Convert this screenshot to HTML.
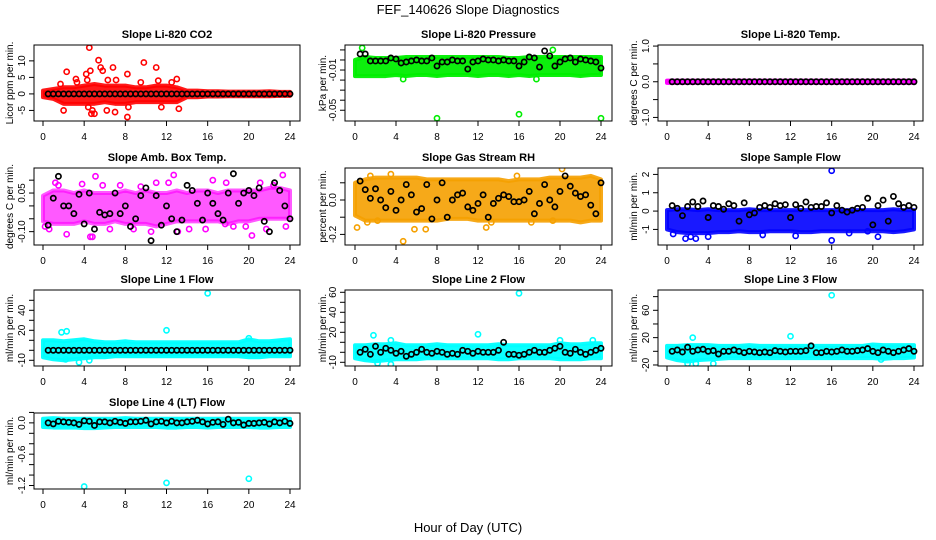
<!DOCTYPE html>
<html><head><meta charset="utf-8"><style>
html,body{margin:0;padding:0;background:#fff}
svg{display:block;font-family:"Liberation Sans",Arial,sans-serif}
</style></head><body>
<svg id="chart" width="936" height="540" viewBox="0 0 936 540">
<text x="468" y="14" text-anchor="middle" font-size="13">FEF_140626  Slope Diagnostics</text>
<text x="468" y="532" text-anchor="middle" font-size="13">Hour of Day (UTC)</text>
</svg>
<script>
// ---- data ----
const bandHours = [0,1,2,3,4,5,6,7,8,9,10,11,12,13,14,15,16,17,18,19,20,21,22,23,24];
const xTicks = [0,4,8,12,16,20,24];

const co2Lo = [-1,-1.5,-3,-3,-3,-3,-2.5,-3,-3,-2.5,-2.5,-2.5,-2.5,-2.5,-1,-1,-0.8,-0.8,-0.7,-0.7,-0.7,-0.7,-0.7,-0.6,-0.6];
const co2Hi = [1,1.5,2,2,2.5,3,2.5,2.5,2.5,2,2,2.5,2.5,2,1,1,0.8,0.8,0.7,0.7,0.7,0.7,0.8,0.6,0.6];
const co2OutX = [4.5,5.4,9.8,11,2.3,5.6,6.8,4.6,3.2,4.3,6.3,7.1,8.2,9.5,11.2,13,1.7,2,4.8,6.2,7,8.2,4.7,5,11.5,13.2,12.5,4.2,4.4,8.3,5.8,3.3];
const co2OutY = [14,10.2,9.5,8,6.7,8,8,7,4.5,4.2,4.2,4.2,6,3.5,4,4.5,3,-5,-5,-5,-5.5,-7,-6,-6,-4,-4.5,3.5,6,-4,-4,7,3.5];
const co2Blk = [0,0,0,0,0,0,0,0,0,0,0,0,0,0,0,0,0,0,0,0,0,0,0,0,0,0,0,0,0,0,0,0,0,0,0,0,0,0,0,0,0,0,0,0,0,0,0,0];

const presLo = [-0.016,-0.016,-0.016,-0.016,-0.015,-0.016,-0.015,-0.015,-0.016,-0.015,-0.015,-0.015,-0.016,-0.015,-0.015,-0.016,-0.015,-0.016,-0.015,-0.015,-0.015,-0.015,-0.016,-0.015,-0.015];
const presHi = [0,0.003,0.002,0.002,0.002,0.003,0.003,0.003,0.003,0.003,0.003,0.003,0.003,0.003,0.003,0.002,0.002,0.003,0.003,0.003,0.003,0.003,0.003,0.003,0.003];
const presOutX = [8,16,24,4.7,17.7,0.7,19.3];
const presOutY = [-0.058,-0.054,-0.058,-0.019,-0.019,0.012,0.01];
const presBlk = [0.006,0.006,-0.001,-0.001,-0.001,-0.001,0.002,0.001,-0.003,-0.002,-0.001,0,-0.001,-0.001,0.002,-0.006,-0.002,-0.002,0,-0.001,-0.001,-0.009,-0.002,-0.001,0.001,0,0,-0.001,0,-0.001,-0.001,-0.006,-0.002,0.003,0.002,-0.007,0.009,0.004,-0.006,-0.002,0.001,0.002,-0.002,0.001,0,-0.001,-0.002,-0.008];

const tempLo = [-0.03,-0.03,-0.03,-0.03,-0.03,-0.03,-0.03,-0.03,-0.03,-0.03,-0.03,-0.03,-0.03,-0.03,-0.03,-0.03,-0.03,-0.03,-0.03,-0.03,-0.03,-0.03,-0.03,-0.03,-0.03];
const tempHi = [0.03,0.03,0.03,0.03,0.03,0.03,0.03,0.03,0.03,0.03,0.03,0.03,0.03,0.03,0.03,0.03,0.03,0.03,0.03,0.03,0.03,0.03,0.03,0.03,0.03];
const tempOutX = [];
const tempOutY = [];
const tempBlk = [0,0,0,0,0,0,0,0,0,0,0,0,0,0,0,0,0,0,0,0,0,0,0,0,0,0,0,0,0,0,0,0,0,0,0,0,0,0,0,0,0,0,0,0,0,0,0,0];

const ambLo = [-0.06,-0.07,-0.07,-0.07,-0.06,-0.07,-0.07,-0.06,-0.07,-0.07,-0.07,-0.08,-0.07,-0.06,-0.06,-0.06,-0.06,-0.06,-0.07,-0.06,-0.06,-0.05,-0.05,-0.05,-0.05];
const ambHi = [0.04,0.06,0.06,0.05,0.06,0.05,0.05,0.05,0.06,0.05,0.06,0.05,0.05,0.06,0.05,0.06,0.06,0.05,0.06,0.06,0.06,0.06,0.07,0.07,0.06];
const ambOutX = [0.2,0.6,1.2,2.3,4.6,4.8,5.1,9.5,10.5,12.7,13.1,17.7,20.3,21.7,23.3,23.6,1.5,3.8,5.8,7.5,8.8,11,12.2,15.8,16.5,17.8,18.5,19.7,21.1,22.4,14.2,6.5];
const ambOutY = [-0.08,-0.09,0.09,-0.11,-0.12,-0.12,0.115,0.075,-0.1,0.12,-0.1,-0.07,-0.115,-0.09,0.12,-0.08,0.08,0.085,0.08,0.08,-0.09,0.09,0.09,-0.09,0.1,0.09,-0.08,-0.08,0.09,0.08,-0.09,-0.09];
const ambBlk = [-0.075,0.03,0.115,0,0,-0.03,0.045,-0.07,0.05,-0.09,-0.025,-0.035,-0.03,0.05,-0.03,0,-0.08,-0.05,0.04,0.07,-0.135,0.04,-0.075,0,-0.05,-0.1,-0.055,0.08,0.06,0.01,-0.055,0.05,0.01,-0.03,-0.055,0.05,0.125,0.01,0.05,0.06,0.04,0.07,-0.06,-0.1,0.09,0.06,0,-0.05];

const rhLo = [-0.09,-0.12,-0.12,-0.12,-0.12,-0.12,-0.12,-0.12,-0.12,-0.11,-0.11,-0.11,-0.12,-0.12,-0.12,-0.12,-0.12,-0.12,-0.12,-0.12,-0.12,-0.12,-0.13,-0.12,-0.12];
const rhHi = [0.1,0.12,0.13,0.13,0.13,0.13,0.13,0.12,0.12,0.12,0.12,0.12,0.12,0.12,0.12,0.11,0.12,0.12,0.12,0.13,0.13,0.13,0.13,0.14,0.12];
const rhOutX = [0.2,1.2,2.2,4.7,6.9,5.8,12.8,20.2,3.5,15.8,1.5,17.2,13.3,19.3];
const rhOutY = [-0.16,-0.13,-0.12,-0.24,-0.17,-0.17,-0.16,0.18,0.15,0.14,0.14,-0.13,-0.13,-0.12];
const rhBlk = [0.11,0.06,0.01,0.065,0,-0.045,0.05,-0.06,0,0.09,0.03,-0.07,-0.05,0.09,-0.11,0,0.1,-0.1,0,0.03,0.04,-0.04,-0.06,-0.02,0.03,-0.1,-0.02,0.01,0.03,0.02,-0.01,-0.01,0,0.05,-0.08,-0.02,0.09,0,-0.04,0.05,0.14,0.08,0.04,0.02,0.03,-0.03,-0.08,0.1];

const flowLo = [-1,-1.15,-1.2,-1.2,-1.2,-1.15,-1.15,-1.1,-1.15,-1.15,-1.1,-1.1,-1.1,-1.15,-1.15,-1.1,-1.1,-1.1,-1.1,-1.1,-1.1,-1.1,-1.15,-1.1,-1];
const flowHi = [0.05,0.1,0.1,0.05,0.1,0.05,0.05,0.05,0.1,0.05,0.05,0.05,0.05,0.05,0.05,0.05,0.05,0.05,0.05,0.05,0.05,0.05,0.1,0.05,0.05];
const flowOutX = [16,16,1.8,2.8,4,2.3,20.5,12.5,9.3,17.7,19.5,0.6];
const flowOutY = [2.2,-1.6,-1.5,-1.5,-1.4,-1.4,-1.4,-1.35,-1.3,-1.2,-1.1,-1.25];
const flowBlk = [0.3,0.15,-0.25,0.25,0.5,0.25,0.55,-0.35,0.3,0.25,0.1,0.4,0.3,-0.55,0.45,-0.2,-0.1,0.2,0.3,0.2,0.4,0.3,0.35,-0.35,0.35,0.15,0.5,0.2,0.25,0.25,0.45,-0.1,0.3,0.05,-0.05,0.05,0.15,0.2,0.7,-0.75,0.3,0.6,-0.55,0.8,0.4,0.2,0.3,0.2];

const l1Lo = [-7,-9,-10,-9,-8,-7,-7,-6,-6,-6,-6,-6,-6,-6,-6,-6,-6,-6,-6,-6,-7,-7,-6,-6,-6];
const l1Hi = [10,10,9,10,11,9,8,8,9,8,8,8,8,8,8,8,8,8,8,8,11,9,9,10,11];
const l1OutX = [16,12,2.3,1.8,3.5,2.2,4.5,20];
const l1OutY = [57,20,19,18,-12,-9,-10,12];
const l1Blk = [0,0,0,0,0,0,0,0,0,0,0,0,0,0,0,0,0,0,0,0,0,0,0,0,0,0,0,0,0,0,0,0,0,0,0,0,0,0,0,0,0,0,0,0,0,0,0,0];

const l2Lo = [-6,-8,-9,-8,-7,-7,-7,-6,-6,-6,-6,-6,-6,-6,-7,-7,-6,-6,-6,-6,-7,-7,-7,-6,-6];
const l2Hi = [7,7,8,8,9,7,7,7,8,7,7,7,7,7,8,7,7,7,7,7,9,8,8,9,9];
const l2OutX = [16,12,1.8,3.5,2.2,3.5,20,23.2];
const l2OutY = [59,18,17,-12,-11,12,12,12];
const l2Blk = [0,3,-2,6,0,4,2,-1,1,-4,-2,0,3,0,-1,1,0,-2,-1,-2,2,1,-1,1,0,0,0,2,10,-2,-2,-3,-2,0,2,0,0,2,4,6,0,-1,3,0,-2,0,2,4];

const l3Lo = [-9,-13,-15,-13,-12,-11,-10,-10,-10,-10,-10,-10,-10,-10,-10,-10,-10,-10,-10,-10,-10,-11,-10,-10,-9];
const l3Hi = [8,8,9,9,9,8,8,8,9,8,8,8,8,8,8,8,8,8,8,8,10,9,9,9,9];
const l3OutX = [16,12,2.5,4.5,2,2.8,20.8];
const l3OutY = [82,22,20,-18,-18,-18,-12];
const l3Blk = [0,2,-1,6,0,2,3,0,1,-4,0,0,2,0,-2,0,-1,-2,-1,-2,1,0,-1,0,0,0,1,8,-2,-2,0,-1,0,2,0,0,1,2,4,0,-2,2,0,-2,0,2,4,0];

const l4Lo = [-0.08,-0.09,-0.09,-0.09,-0.1,-0.1,-0.09,-0.08,-0.08,-0.08,-0.08,-0.08,-0.09,-0.09,-0.08,-0.08,-0.09,-0.08,-0.08,-0.08,-0.08,-0.09,-0.09,-0.08,-0.08];
const l4Hi = [0.08,0.09,0.08,0.08,0.08,0.08,0.08,0.08,0.09,0.08,0.08,0.08,0.08,0.08,0.08,0.08,0.08,0.08,0.08,0.08,0.08,0.08,0.08,0.08,0.08];
const l4OutX = [4,12,20];
const l4OutY = [-1.22,-1.15,-1.07];
const l4Blk = [0,-0.02,0.03,0.02,0.01,0,-0.03,0.04,0.03,-0.05,0.02,0.02,0,0.03,0.01,-0.01,0.02,0.02,0.03,0.05,-0.02,0.02,0.03,0,0.03,0,0,0.02,0.03,0.05,0.02,-0.02,0.01,0.02,-0.03,0.07,0,0.01,-0.04,-0.01,-0.01,0,0.01,-0.02,0.02,0,0.03,-0.01];

const blkHours = [0.5,1,1.5,2,2.5,3,3.5,4,4.5,5,5.5,6,6.5,7,7.5,8,8.5,9,9.5,10,10.5,11,11.5,12,12.5,13,13.5,14,14.5,15,15.5,16,16.5,17,17.5,18,18.5,19,19.5,20,20.5,21,21.5,22,22.5,23,23.5,24];

// ---- layout (not data) ----
const cols = [{l:34,r:300,x0:43,x24:290,yl:9},{l:345,r:612,x0:355,x24:601,yl:322},{l:658,r:923,x0:667,x24:914,yl:633}];
const rows = [{t:45,b:121},{t:168,b:245},{t:290,b:366},{t:413,b:489}];

const panels = [
 {name:'co2',title:'Slope Li-820 CO2',ylab:'Licor ppm per min.',c:0,r:0,ymin:-8.2,ymax:14.8,ticks:[-5,0,5,10],labels:[-5,0,5,10],col:'#ff0000',op:0.9,lo:co2Lo,hi:co2Hi,ox:co2OutX,oy:co2OutY,blk:co2Blk},
 {name:'pressure',title:'Slope Li-820 Pressure',ylab:'kPa per min.',c:1,r:0,ymin:-0.0607,ymax:0.0149,ticks:[0.01,0,-0.01,-0.02,-0.03,-0.04,-0.05],labels:[-0.01,-0.05],col:'#00ee00',op:0.95,lo:presLo,hi:presHi,ox:presOutX,oy:presOutY,blk:presBlk},
 {name:'temp',title:'Slope Li-820 Temp.',ylab:'degrees C per min.',c:2,r:0,ymin:-1.1,ymax:1.03,ticks:[-1,-0.5,0,0.5,1],labels:[-1,0,1],fmt:v=>v.toFixed(1),col:'#ff00ff',op:1,lo:tempLo,hi:tempHi,ox:tempOutX,oy:tempOutY,blk:tempBlk},
 {name:'amb-temp',title:'Slope Amb. Box Temp.',ylab:'degrees C per min.',c:0,r:1,ymin:-0.1519,ymax:0.1473,ticks:[0.1,0.05,0,-0.05,-0.1],labels:[0.05,-0.1],fmt:v=>v.toFixed(2),col:'#ff00ff',op:0.65,lo:ambLo,hi:ambHi,ox:ambOutX,oy:ambOutY,blk:ambBlk},
 {name:'rh',title:'Slope Gas Stream RH',ylab:'percent per min.',c:1,r:1,ymin:-0.2616,ymax:0.186,ticks:[0.1,0,-0.1,-0.2],labels:[0,-0.2],fmt:v=>v.toFixed(1),col:'#f5a000',op:0.9,lo:rhLo,hi:rhHi,ox:rhOutX,oy:rhOutY,blk:rhBlk},
 {name:'sample-flow',title:'Slope Sample Flow',ylab:'ml/min per min.',c:2,r:1,ymin:-1.85,ymax:2.35,ticks:[-1,0,1,2],labels:[-1,0,1,2],col:'#0000ff',op:0.9,lo:flowLo,hi:flowHi,ox:flowOutX,oy:flowOutY,blk:flowBlk},
 {name:'line1',title:'Slope Line 1 Flow',ylab:'ml/min per min.',c:0,r:2,ymin:-15.7,ymax:60.3,ticks:[-10,0,10,20,30,40,50],labels:[-10,20,40],col:'#00ffff',op:0.95,lo:l1Lo,hi:l1Hi,ox:l1OutX,oy:l1OutY,blk:l1Blk},
 {name:'line2',title:'Slope Line 2 Flow',ylab:'ml/min per min.',c:1,r:2,ymin:-13.7,ymax:62.3,ticks:[-10,0,10,20,30,40,50,60],labels:[-10,20,40,60],col:'#00ffff',op:0.95,lo:l2Lo,hi:l2Hi,ox:l2OutX,oy:l2OutY,blk:l2Blk},
 {name:'line3',title:'Slope Line 3 Flow',ylab:'ml/min per min.',c:2,r:2,ymin:-21.5,ymax:89.7,ticks:[-20,0,20,40,60,80],labels:[-20,20,60],col:'#00ffff',op:0.95,lo:l3Lo,hi:l3Hi,ox:l3OutX,oy:l3OutY,blk:l3Blk},
 {name:'line4',title:'Slope Line 4 (LT) Flow',ylab:'ml/min per min.',c:0,r:3,ymin:-1.267,ymax:0.189,ticks:[0.2,0,-0.2,-0.4,-0.6,-0.8,-1,-1.2],labels:[0,-0.6,-1.2],fmt:v=>v.toFixed(1),col:'#00ffff',op:0.95,lo:l4Lo,hi:l4Hi,ox:l4OutX,oy:l4OutY,blk:l4Blk}
];

const NS='http://www.w3.org/2000/svg';
const svg=document.getElementById('chart');
function mk(tag,attrs,parent){const e=document.createElementNS(NS,tag);for(const k in attrs)e.setAttribute(k,attrs[k]);(parent||svg).appendChild(e);return e;}

panels.forEach(p=>{
  const C=cols[p.c],R=rows[p.r];
  const xs=h=>C.x0+(C.x24-C.x0)*h/24;
  const ys=v=>R.b-(v-p.ymin)/(p.ymax-p.ymin)*(R.b-R.t);
  const g=mk('g',{});
  
  
  const clipId='clip-'+p.name;
  const cp=mk('clipPath',{id:clipId},g);
  mk('rect',{x:C.l,y:R.t,width:C.r-C.l,height:R.b-R.t},cp);
  const t=mk('text',{x:(C.l+C.r)/2,y:R.t-7,'text-anchor':'middle','font-size':11,'font-weight':'bold'},g);
  t.textContent=p.title;
  
  
  const yl=mk('text',{x:C.yl+4,y:(R.t+R.b)/2,'text-anchor':'middle','font-size':10,transform:`rotate(-90 ${C.yl+4} ${(R.t+R.b)/2})`},g);
  yl.textContent=p.ylab;
  
  
  const d=mk('g',{'clip-path':`url(#${clipId})`},g);
  
  
  let pts=p.hi.map((v,i)=>[xs(bandHours[i]),ys(v)]);
  pts=pts.concat(p.lo.map((v,i)=>[xs(bandHours[i]),ys(v)]).reverse());
  const band=mk('polygon',{points:pts.map(q=>q.join(',')).join(' '),fill:p.col,'fill-opacity':p.op,stroke:p.col,'stroke-width':4,'stroke-linejoin':'round','stroke-opacity':p.op},d);
  
  
  p.ox.forEach((h,i)=>{
    const c=mk('circle',{cx:xs(h),cy:ys(p.oy[i]),r:2.6,fill:'none',stroke:p.col,'stroke-width':1.6},d);
    
    
  });
  p.blk.forEach((v,i)=>{
    const c=mk('circle',{cx:xs(blkHours[i]),cy:ys(v),r:2.6,fill:'none',stroke:'#000','stroke-width':1.7},d);
    
    
  });
  const box=mk('rect',{x:C.l,y:R.t,width:C.r-C.l,height:R.b-R.t,fill:'none',stroke:'#000','stroke-width':1},g);
  
  
  xTicks.forEach(h=>{
    mk('line',{x1:xs(h),x2:xs(h),y1:R.b,y2:R.b+5,stroke:'#000'},g);
    const tl=mk('text',{x:xs(h),y:R.b+19,'text-anchor':'middle','font-size':10},g);
    tl.textContent=h;
    
    
  });
  p.ticks.forEach(v=>{
    mk('line',{x1:C.l,x2:C.l-5,y1:ys(v),y2:ys(v),stroke:'#000'},g);
  });
  p.labels.forEach(v=>{
    const tx=C.l-9, ty=ys(v);
    const tl=mk('text',{x:tx,y:ty,'text-anchor':'middle','font-size':10,transform:`rotate(-90 ${tx} ${ty})`},g);
    tl.textContent=p.fmt?p.fmt(v):String(v);
    
    
  });
});
</script>
</body></html>
